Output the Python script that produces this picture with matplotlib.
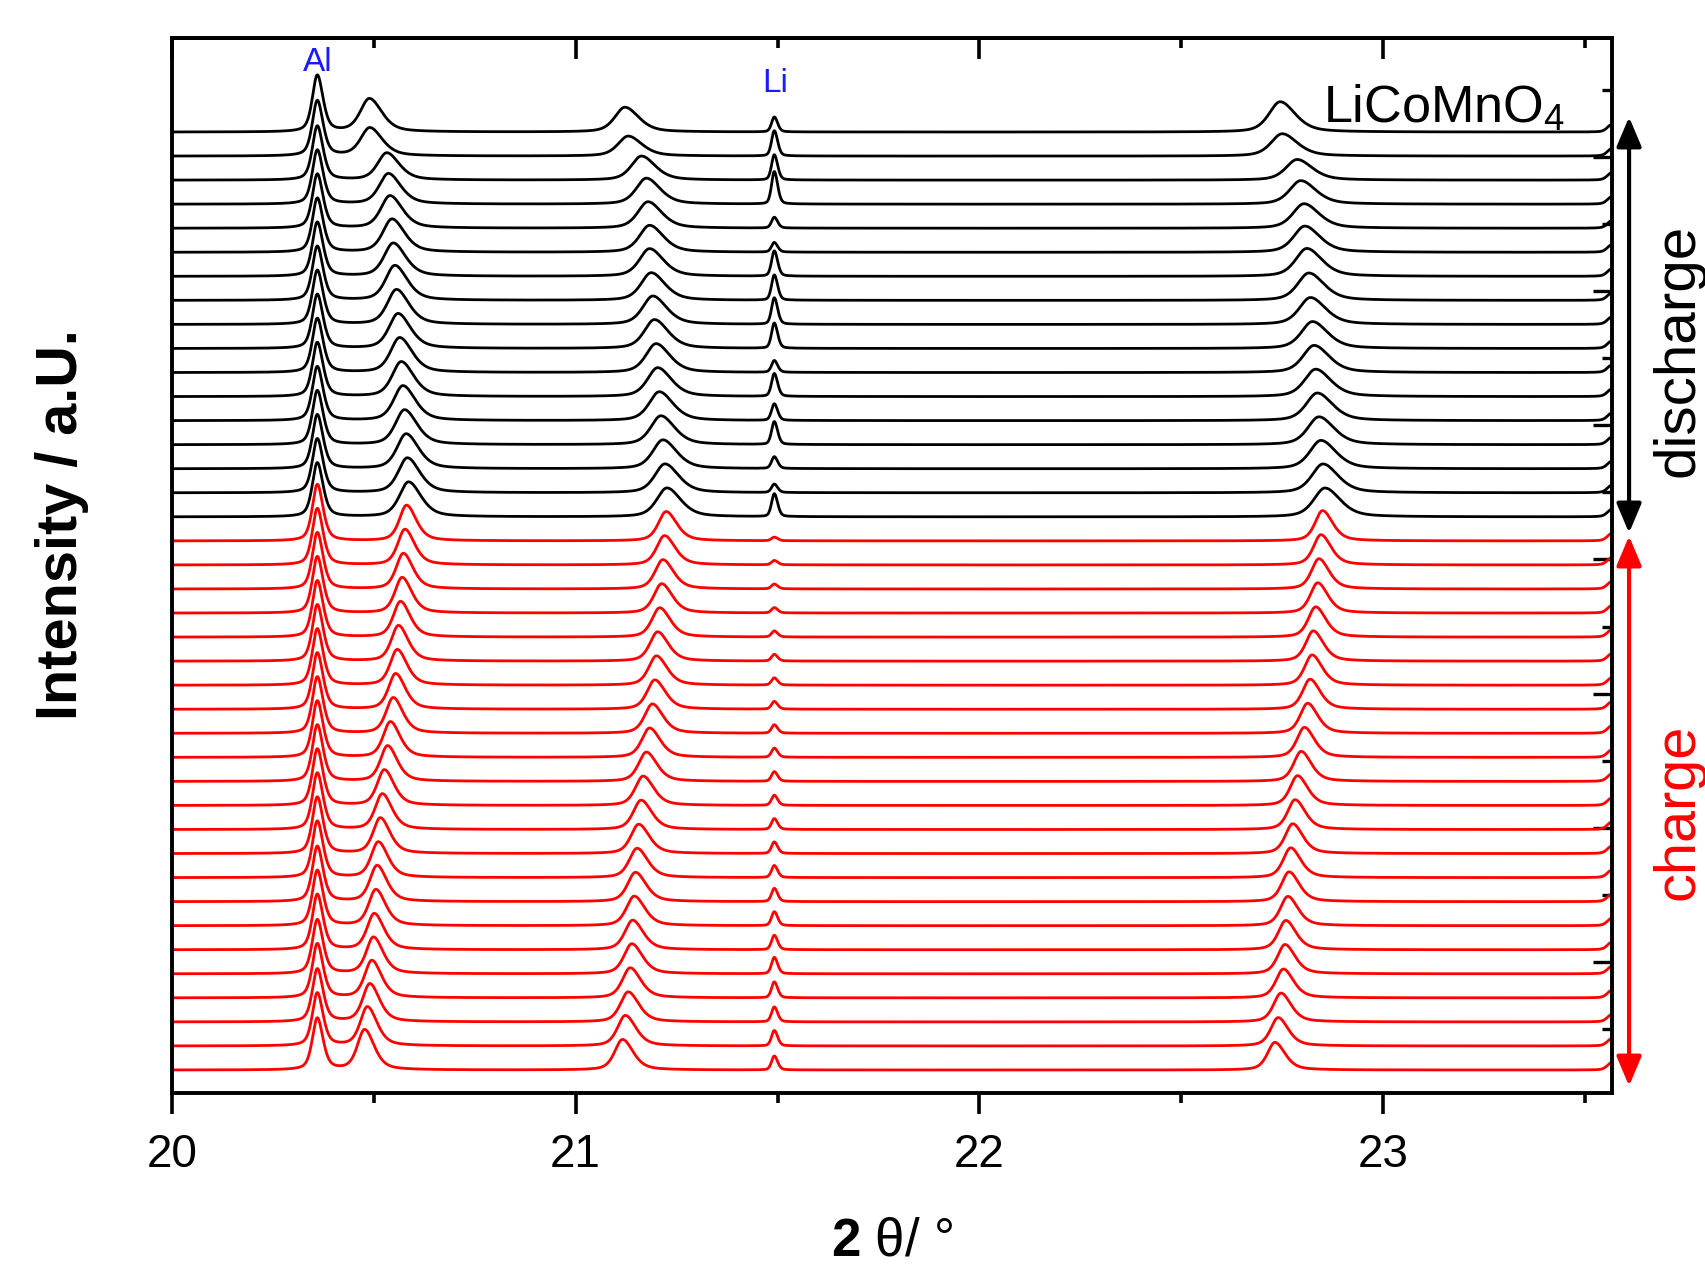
import numpy as np
import matplotlib.pyplot as plt
from matplotlib.patches import FancyArrowPatch

plt.rcParams['font.family'] = ['Liberation Sans', 'DejaVu Sans']
plt.rcParams['mathtext.fontset'] = 'custom'
plt.rcParams['mathtext.rm'] = 'Liberation Sans'
plt.rcParams['mathtext.bf'] = 'Liberation Sans:bold'
plt.rcParams['mathtext.it'] = 'Liberation Sans:italic'

# ---- peak parameters (scan 0 = bottom trace) ----
# heights are in units of the vertical offset between traces
# charge scans (red), bottom -> top
al_pos_c = [20.360] * 23
al_h_c = [2.15, 2.20, 2.20, 2.25, 2.25, 2.30, 2.30, 2.30, 2.35, 2.35, 2.35, 2.35,
          2.35, 2.35, 2.35, 2.35, 2.35, 2.35, 2.35, 2.35, 2.35, 2.35, 2.35]
p2_pos_c = [20.477, 20.484, 20.490, 20.495, 20.499, 20.501, 20.505, 20.508, 20.511,
            20.516, 20.521, 20.526, 20.534, 20.541, 20.548, 20.554, 20.558, 20.561,
            20.566, 20.570, 20.573, 20.577, 20.581]
p2_h_c = [1.67, 1.62, 1.58, 1.55, 1.52, 1.50, 1.50, 1.50, 1.48, 1.48, 1.48, 1.48,
          1.48, 1.48, 1.48, 1.48, 1.48, 1.48, 1.48, 1.48, 1.48, 1.48, 1.48]
p3_pos_c = [21.116, 21.123, 21.130, 21.135, 21.139, 21.141, 21.145, 21.148, 21.152,
            21.156, 21.162, 21.167, 21.175, 21.183, 21.190, 21.196, 21.200, 21.203,
            21.208, 21.213, 21.216, 21.220, 21.224]
p3_h_c = [1.27, 1.27, 1.25, 1.25, 1.25, 1.23, 1.23, 1.22, 1.22, 1.22, 1.22, 1.22,
          1.22, 1.22, 1.22, 1.22, 1.22, 1.22, 1.22, 1.22, 1.22, 1.22, 1.22]
p4_pos_c = [22.732, 22.740, 22.747, 22.753, 22.757, 22.759, 22.764, 22.767, 22.771,
            22.776, 22.782, 22.788, 22.797, 22.805, 22.813, 22.819, 22.824, 22.827,
            22.833, 22.838, 22.841, 22.846, 22.850]
p4_h_c = [1.15, 1.18, 1.20, 1.20, 1.22, 1.22, 1.22, 1.24, 1.24, 1.24, 1.24, 1.24,
          1.25, 1.25, 1.25, 1.25, 1.26, 1.26, 1.26, 1.26, 1.26, 1.26, 1.26]
li_h_c = [0.58, 0.64, 0.62, 0.66, 0.68, 0.60, 0.58, 0.55, 0.50, 0.48, 0.45, 0.42,
          0.40, 0.38, 0.35, 0.32, 0.30, 0.28, 0.25, 0.22, 0.20, 0.18, 0.15]

# discharge scans (black), bottom -> top
al_pos_d = [20.360] * 17
al_h_d = [2.25, 2.25, 2.25, 2.25, 2.25, 2.25, 2.25, 2.25, 2.25, 2.25, 2.25, 2.25,
          2.25, 2.25, 2.25, 2.30, 2.35]
p2_pos_d = [20.586, 20.583, 20.580, 20.576, 20.572, 20.568, 20.564, 20.560, 20.556,
            20.552, 20.548, 20.545, 20.540, 20.536, 20.532, 20.490, 20.489]
p2_h_d = [1.45, 1.45, 1.45, 1.45, 1.45, 1.45, 1.45, 1.45, 1.45, 1.45, 1.38, 1.38,
          1.35, 1.27, 1.13, 1.17, 1.38]
p3_pos_d = [21.226, 21.221, 21.216, 21.211, 21.207, 21.203, 21.199, 21.195, 21.191,
            21.187, 21.183, 21.183, 21.179, 21.175, 21.163, 21.130, 21.122]
p3_h_d = [1.20, 1.20, 1.20, 1.20, 1.20, 1.20, 1.20, 1.20, 1.18, 1.15, 1.15, 1.12,
          1.10, 1.08, 1.00, 0.83, 1.03]
p4_pos_d = [22.856, 22.851, 22.846, 22.841, 22.837, 22.833, 22.829, 22.825, 22.820,
            22.816, 22.811, 22.806, 22.804, 22.796, 22.787, 22.750, 22.745]
p4_h_d = [1.20, 1.20, 1.18, 1.16, 1.15, 1.14, 1.13, 1.12, 1.12, 1.14, 1.16, 1.09,
          1.02, 0.98, 0.86, 0.93, 1.26]
li_h_d = [0.95, 0.35, 0.49, 0.95, 0.69, 0.95, 0.49, 1.05, 1.10, 1.05, 1.05, 0.40,
          0.45, 1.35, 1.05, 1.05, 0.62]

li_pos = 21.492
edge_pos = 23.565
edge_h = 0.30

# half widths (deg) and right/left asymmetry for each reflection: (charge, discharge)
al_w = (0.0145, 0.0145)
p2_w = (0.021, 0.027)
p3_w = (0.023, 0.030)
p4_w = (0.022, 0.033)
li_w = 0.008
asym = 1.35

right_ticks = [1.70, 4.49, 7.28, 10.07, 12.86, 15.65, 18.44, 21.23, 24.02, 26.81,
               29.60, 32.39, 35.18, 37.97, 40.76]

tth = np.linspace(20.0, 23.567, 3000)


def peak(x, c, h, w, a=asym, eta=0.5):
    ww = np.where(x < c, w, w * a)
    t = (x - c) / ww
    return h * (eta / (1 + t ** 2) + (1 - eta) * np.exp(-np.log(2) * t ** 2))


def trace(k, al_p, al_h, p2, h2, p3, h3, p4, h4, li_h):
    y = peak(tth, al_p, al_h, al_w[k], 1.15)
    y += peak(tth, p2, h2, p2_w[k])
    y += peak(tth, p3, h3, p3_w[k])
    y += peak(tth, p4, h4, p4_w[k])
    y += peak(tth, li_pos, li_h, li_w, 1.2, 0.3)
    y += peak(tth, edge_pos, edge_h, 0.012, 1.0)
    return y


fig = plt.figure(figsize=(17.06, 12.76), dpi=100)
ax = fig.add_axes([0.1008, 0.1434, 0.8441, 0.8268])

n_c = len(p2_pos_c)
n_d = len(p2_pos_d)

for i in range(n_d):
    y = trace(1, al_pos_d[i], al_h_d[i], p2_pos_d[i], p2_h_d[i], p3_pos_d[i],
              p3_h_d[i], p4_pos_d[i], p4_h_d[i], li_h_d[i])
    ax.plot(tth, y + n_c + i, color='black', lw=2.0)

for i in range(n_c):
    y = trace(0, al_pos_c[i], al_h_c[i], p2_pos_c[i], p2_h_c[i], p3_pos_c[i],
              p3_h_c[i], p4_pos_c[i], p4_h_c[i], li_h_c[i])
    ax.plot(tth, y + i, color='#ff0000', lw=2.0)

ax.set_xlim(20.0, 23.567)
ax.set_ylim(-0.956, 42.91)

for s in ax.spines.values():
    s.set_linewidth(2.8)

ax.set_xticks([20, 21, 22, 23])
ax.set_xticklabels(['20', '21', '22', '23'])
ax.set_xticks([20.5, 21.5, 22.5, 23.5], minor=True)
ax.tick_params(axis='x', which='major', direction='out', length=15, width=2.6,
               labelsize=33, pad=14)
ax.tick_params(axis='x', which='minor', direction='out', length=7.5, width=2.6)

ax.yaxis.tick_right()
ax.set_yticks(right_ticks[1::2])
ax.set_yticks(right_ticks[0::2], minor=True)
ax.tick_params(axis='y', which='major', direction='in', length=14, width=2.4,
               labelright=False, left=False)
ax.tick_params(axis='y', which='minor', direction='in', length=7, width=2.4,
               labelright=False, left=False)

top = ax.secondary_xaxis('top')
top.set_xticks([20, 21, 22, 23])
top.set_xticks([20.5, 21.5, 22.5, 23.5], minor=True)
top.tick_params(axis='x', which='major', direction='in', length=15, width=2.6,
                labeltop=False)
top.tick_params(axis='x', which='minor', direction='in', length=7.5, width=2.6)
top.spines['top'].set_linewidth(2.8)

ax.text(20.362, 41.55, 'Al', color='#1a1aff', fontsize=24, ha='center',
        va='baseline')
ax.text(21.494, 40.67, 'Li', color='#1a1aff', fontsize=24, ha='center',
        va='baseline')
ax.text(22.852, 39.38, r'LiCoMnO$_4$', fontsize=37.5, ha='left', va='baseline')

fig.text(0.523, 0.027, r'$\mathbf{2}$ θ/ °', fontsize=38, ha='center',
         va='center')
fig.text(0.0365, 0.589, 'Intensity / a.U.', fontsize=41.5, fontweight='bold',
         rotation=90, ha='center', va='center')

arr_d = FancyArrowPatch((0.9549, 0.9083), (0.9549, 0.5823),
                        transform=fig.transFigure,
                        arrowstyle='<|-|>,head_length=0.9,head_width=0.38',
                        mutation_scale=20, lw=3, color='black',
                        shrinkA=0, shrinkB=0)
arr_c = FancyArrowPatch((0.9549, 0.5799), (0.9549, 0.1489),
                        transform=fig.transFigure,
                        arrowstyle='<|-|>,head_length=0.9,head_width=0.38',
                        mutation_scale=20, lw=3, color='#ff0000',
                        shrinkA=0, shrinkB=0)
fig.patches.extend([arr_d, arr_c])

fig.text(0.984, 0.7257, 'discharge', fontsize=42, rotation=90, ha='center',
         va='center')
fig.text(0.984, 0.3636, 'charge', fontsize=41.5, rotation=90, ha='center',
         va='center', color='#ff0000')

fig.savefig('out.png', dpi=100)
